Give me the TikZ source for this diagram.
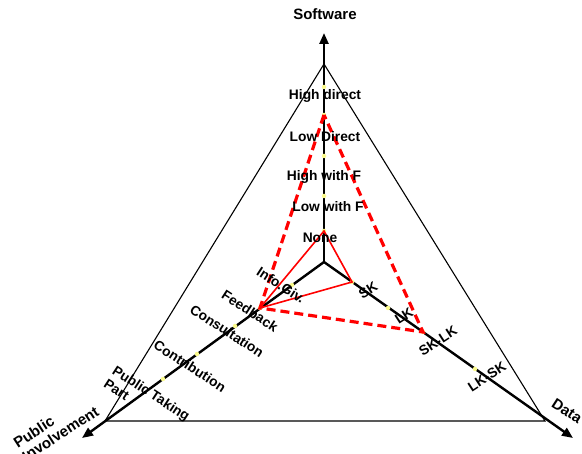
\documentclass[tikz,border=0pt]{standalone}
\usepackage{fontspec}
\setmainfont{Liberation Sans}
\usetikzlibrary{arrows.meta}
\definecolor{tickyellow}{RGB}{250,250,140}
\begin{document}
\begin{tikzpicture}[x=1pt,y=-1pt,
  frame/.style={line width=1.1pt},
  axis/.style={line width=2.4pt,-{Triangle[length=11pt,width=9pt]}},
  tick/.style={circle,fill=tickyellow,inner sep=0pt,minimum size=4.5pt},
  lab/.style={font=\fontsize{13.8}{16}\selectfont\bfseries,inner sep=0pt},
  ttl/.style={font=\fontsize{15}{16}\selectfont\bfseries,inner sep=0pt},
  solidred/.style={red,line width=1.6pt},
  dashred/.style={red,line width=3.2pt,dash pattern=on 9pt off 5pt},
]
\useasboundingbox (0,0) rectangle (582,454);
% frame triangle
\coordinate (O) at (324,262);
\coordinate (VL) at (105,421);
\coordinate (VR) at (545,421);
\coordinate (VT) at (324,64);
\coordinate (TS) at (324,33);
\coordinate (TL) at (82,438);
\coordinate (TR) at (573,438);
\draw[frame] (VL) -- (VR) -- (VT) -- cycle;
% axes
\draw[axis] (O) -- (TS);
\draw[axis] (O) -- (TL);
\draw[axis] (O) -- (TR);
% tick points
\node[tick] (s1) at (324,231) {};
\node[tick] (s2) at (324,196) {};
\node[tick] (s3) at (324,156) {};
\node[tick] (s4) at (324,115) {};
\node[tick] (s5) at (324,87) {};
\node[tick] (p1) at (292,285) {};
\node[tick] (p2) at (260,308) {};
\node[tick] (p3) at (235,326) {};
\node[tick] (p4) at (197,354) {};
\node[tick] (p5) at (163,379) {};
\node[tick] (d1) at (352,282) {};
\node[tick] (d2) at (388,308) {};
\node[tick] (d3) at (423,332) {};
\node[tick] (d4) at (475,369) {};
% red profiles
\draw[dashred] (s4.center) -- (p2.center) -- (d3.center) -- cycle;
\draw[solidred] (s1.center) -- (p2.center) -- (d1.center) -- cycle;
% labels top axis
\node[lab] (lhd) at (325,96) {High direct};
\node[lab] (lld) at (325,137) {Low Direct};
\node[lab] (lhf) at (324,177) {High with F};
\node[lab] (llf) at (328,207) {Low with F};
\node[lab] (lno) at (320,238) {None};
% labels left axis
\node[lab,rotate=-33] (lig) at (281,285) {Info.Giv.};
\node[lab,rotate=-33] (lfb) at (250,311) {Feedback};
\node[lab,rotate=-33] (lcs) at (227,331) {Consultation};
\node[lab,rotate=-33] (lct) at (190,366) {Contribution};
\node[lab,rotate=-33,align=left] (lpt) at (147,400) {Public Taking\\Part};
% labels right axis
\node[lab,rotate=33] (lsk) at (368,290) {SK};
\node[lab,rotate=33] (llk) at (404,316) {LK};
\node[lab,rotate=33] (lsl) at (438,341) {SK-LK};
\node[lab,rotate=33] (lls) at (487,377) {LK-SK};
% axis titles
\node[ttl] (tsw) at (325,14) {Software};
\node[ttl,rotate=33,align=left] (tpi) at (56,427) {Public\\Involvement};
\node[ttl,rotate=-33] (tda) at (567,411) {Data};
\end{tikzpicture}
\end{document}
